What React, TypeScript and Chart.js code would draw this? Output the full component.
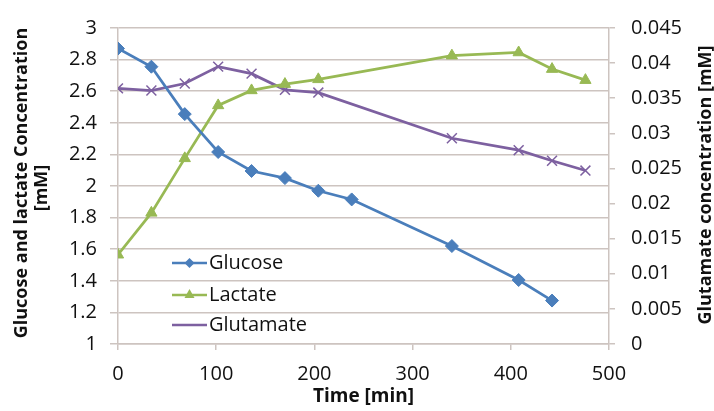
import React, { useEffect, useRef } from "react";
import { Chart, registerables } from "chart.js";

Chart.register(...registerables);

const glucoseTimes = [0, 34, 68, 102, 136, 170, 204, 238, 340, 408, 442];
const glucoseValues = [2.87, 2.755, 2.455, 2.215, 2.095, 2.05, 1.97, 1.915, 1.62, 1.405, 1.275];

const otherTimes = [0, 34, 68, 102, 136, 170, 204, 340, 408, 442, 476];
const lactateValues = [1.565, 1.83, 2.175, 2.51, 2.605, 2.645, 2.675, 2.825, 2.845, 2.74, 2.67];
const glutamateValues = [0.0364, 0.0361, 0.0371, 0.0395, 0.0385, 0.0362, 0.0358, 0.0293, 0.0276, 0.0261, 0.0247];

const seriesNames = ["Glucose", "Lactate", "Glutamate"];
const xTitle = "Time [min]";
const leftTitle = ["Glucose and lactate Concentration", "[mM]"];
const rightTitle = "Glutamate concentration [mM]";

const COLORS = ["#4a7ebb", "#98b954", "#7d60a0"];
const FONT = "'Open Sans', 'DejaVu Sans', sans-serif";
const GRID = "#cdc4c0";
const TEXT = "#111111";

const toPoints = (xs: number[], ys: number[]) => xs.map((x, i) => ({ x, y: ys[i] }));

const textPlugin = {
  id: "customText",
  afterDraw(chart: any) {
    const ctx = chart.ctx as CanvasRenderingContext2D;
    const area = chart.chartArea;
    ctx.save();
    ctx.fillStyle = TEXT;
    // x title
    ctx.font = `bold 19px ${FONT}`;
    ctx.textAlign = "center";
    ctx.textBaseline = "middle";
    ctx.fillText(xTitle, (area.left + area.right) / 2, 397);
    // left title
    const cy = (area.top + area.bottom) / 2;
    ctx.font = `bold 18px ${FONT}`;
    ctx.save();
    ctx.translate(22, cy - 3);
    ctx.rotate(-Math.PI / 2);
    ctx.fillText(leftTitle[0], 0, 0);
    ctx.restore();
    ctx.save();
    ctx.translate(42, cy + 2);
    ctx.rotate(-Math.PI / 2);
    ctx.fillText(leftTitle[1], 0, 0);
    ctx.restore();
    // right title
    ctx.save();
    ctx.translate(706, cy - 1);
    ctx.rotate(-Math.PI / 2);
    ctx.fillText(rightTitle, 0, 0);
    ctx.restore();

    // legend
    const ys = [263, 295, 325];
    ctx.font = `20px ${FONT}`;
    ctx.textAlign = "left";
    seriesNames.forEach((name, i) => {
      const y = ys[i];
      ctx.strokeStyle = COLORS[i];
      ctx.fillStyle = COLORS[i];
      ctx.lineWidth = 2.5;
      ctx.beginPath();
      ctx.moveTo(172, y);
      ctx.lineTo(207, y);
      ctx.stroke();
      const mx = 189.5;
      if (i === 0) {
        ctx.beginPath();
        ctx.moveTo(mx, y - 5);
        ctx.lineTo(mx + 5, y);
        ctx.lineTo(mx, y + 5);
        ctx.lineTo(mx - 5, y);
        ctx.closePath();
        ctx.fill();
      } else if (i === 1) {
        ctx.beginPath();
        ctx.moveTo(mx, y - 6);
        ctx.lineTo(mx + 5, y + 3);
        ctx.lineTo(mx - 5, y + 3);
        ctx.closePath();
        ctx.fill();
      }
      ctx.fillStyle = TEXT;
      ctx.fillText(name, 209, y);
    });
    ctx.restore();
  },
};

export default function App() {
  const ref = useRef<HTMLCanvasElement | null>(null);
  useEffect(() => {
    if (!ref.current) return;
    const chart = new Chart(ref.current, {
      type: "line",
      data: {
        datasets: [
          {
            label: seriesNames[0],
            data: toPoints(glucoseTimes, glucoseValues),
            yAxisID: "y",
            borderColor: COLORS[0],
            backgroundColor: COLORS[0],
            borderWidth: 2.75,
            pointStyle: "rectRot",
            pointRadius: 6.5,
            pointBorderWidth: 1,
            tension: 0,
          },
          {
            label: seriesNames[1],
            data: toPoints(otherTimes, lactateValues),
            yAxisID: "y",
            borderColor: COLORS[1],
            backgroundColor: COLORS[1],
            borderWidth: 2.75,
            pointStyle: "triangle",
            pointRadius: 6.5,
            pointBorderWidth: 1,
            tension: 0,
          },
          {
            label: seriesNames[2],
            data: toPoints(otherTimes, glutamateValues),
            yAxisID: "y1",
            borderColor: COLORS[2],
            backgroundColor: COLORS[2],
            borderWidth: 2.75,
            pointStyle: "crossRot",
            pointRadius: 7,
            pointBorderWidth: 1.5,
            tension: 0,
          },
        ],
      },
      options: {
        responsive: false,
        animation: false,
        layout: { padding: { top: 17, left: 0, right: 0, bottom: 0 } },
        plugins: { legend: { display: false }, tooltip: { enabled: false } },
        scales: {
          x: {
            type: "linear",
            min: 0,
            max: 500,
            ticks: { stepSize: 100, color: TEXT, font: { family: FONT, size: 20 }, padding: 12, maxRotation: 0 },
            grid: { drawOnChartArea: false, tickLength: 6, color: GRID, lineWidth: 1.5 },
            border: { color: GRID, width: 1.5 },
            afterFit: (s: any) => { s.height = 67; },
          },
          y: {
            type: "linear",
            position: "left",
            min: 1,
            max: 3,
            ticks: {
              stepSize: 0.2,
              color: TEXT,
              font: { family: FONT, size: 20 },
              padding: 13,
              callback: (v: any) => String(Number(Number(v).toFixed(1))),
            },
            grid: { color: GRID, lineWidth: 1.5, tickLength: 8 },
            border: { color: GRID, width: 1.5 },
            afterFit: (s: any) => { s.width = 118; },
          },
          y1: {
            type: "linear",
            position: "right",
            min: 0,
            max: 0.045,
            ticks: {
              stepSize: 0.005,
              color: TEXT,
              font: { family: FONT, size: 20 },
              padding: 16,
              callback: (v: any) => String(Number(Number(v).toFixed(3))),
            },
            grid: { drawOnChartArea: false, color: GRID, lineWidth: 1.5, tickLength: 6 },
            border: { color: GRID, width: 1.5 },
            afterFit: (s: any) => { s.width = 105; },
          },
        },
      },
      plugins: [textPlugin],
    });
    return () => chart.destroy();
  }, []);
  return (
    <div style={{ position: "fixed", left: 0, top: 0, width: 714, height: 411, background: "#fff" }}>
      <canvas ref={ref} width={714} height={411} />
    </div>
  );
}
